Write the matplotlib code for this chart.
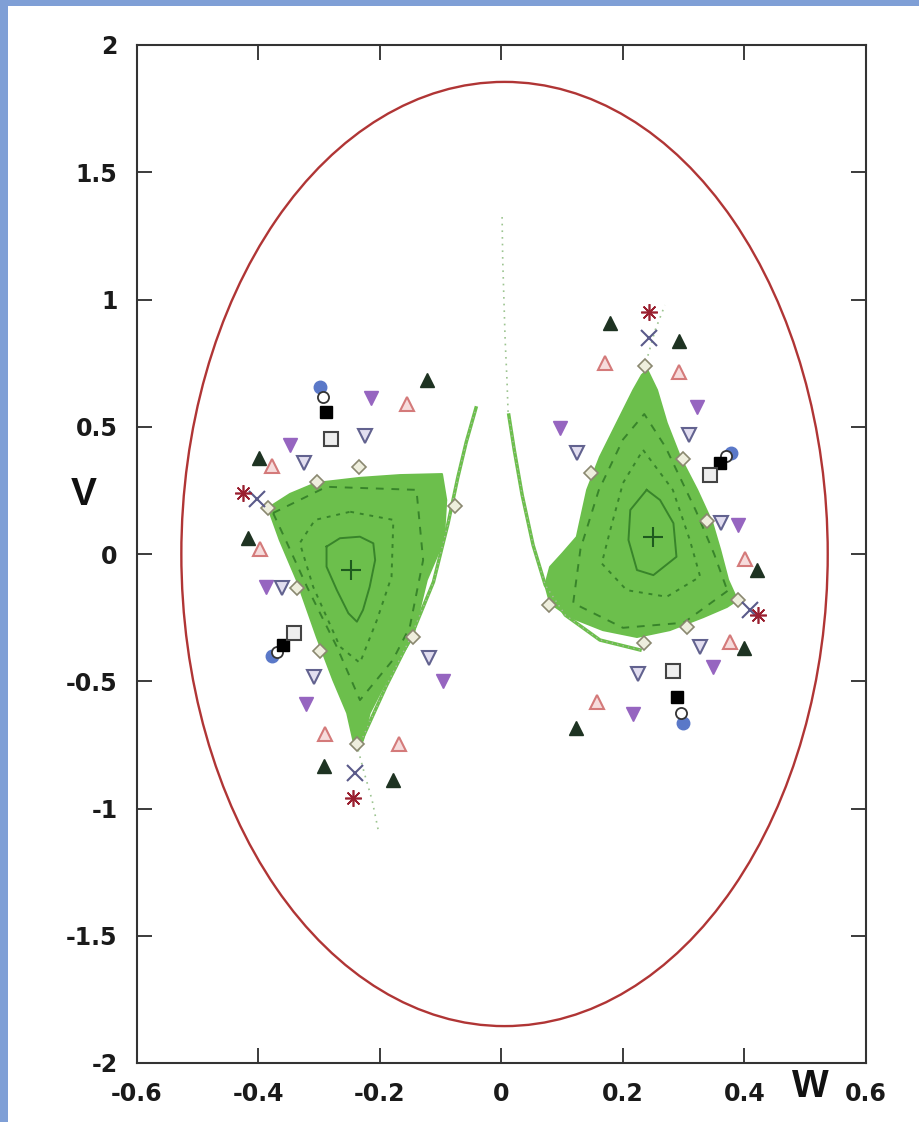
import matplotlib
matplotlib.use("Agg")
import matplotlib.pyplot as plt
from matplotlib.patches import Ellipse, Polygon, Rectangle

plt.rcParams['font.family'] = ['DejaVu Sans']

# ---- data (W, V) ------------------------------------------------------------
ell_w0, ell_v0, ell_rw, ell_rv = 0.005, 0.0, 0.532, 1.855

# island outlines
left_isl_w = [-0.384, -0.348, -0.305, -0.233, -0.167, -0.098, -0.091, -0.095, -0.123, -0.146,
              -0.189, -0.217, -0.228, -0.236, -0.244, -0.254, -0.277, -0.304, -0.337, -0.365]
left_isl_v = [0.181, 0.236, 0.279, 0.299, 0.310, 0.314, 0.212, 0.055, -0.102, -0.326,
              -0.495, -0.625, -0.731, -0.770, -0.731, -0.625, -0.495, -0.326, -0.102, 0.055]
right_isl_w = [0.240, 0.256, 0.272, 0.294, 0.322, 0.347, 0.360, 0.373, 0.388, 0.371, 0.332,
               0.277, 0.223, 0.167, 0.113, 0.080, 0.072, 0.080, 0.101, 0.124, 0.129, 0.141,
               0.162, 0.190, 0.217, 0.231]
right_isl_v = [0.723, 0.644, 0.515, 0.381, 0.252, 0.122, 0.016, -0.102, -0.181, -0.208, -0.248,
               -0.299, -0.326, -0.299, -0.248, -0.193, -0.122, -0.051, 0.004, 0.067, 0.122, 0.252,
               0.381, 0.515, 0.644, 0.703]

# closed invariant curves inside the islands
left_c1_w = [-0.288, -0.266, -0.233, -0.211, -0.208, -0.217, -0.228, -0.238, -0.252, -0.271, -0.288]
left_c1_v = [0.029, 0.062, 0.068, 0.042, -0.024, -0.129, -0.220, -0.266, -0.233, -0.142, -0.050]
left_c2_w = [-0.249, -0.178, -0.181, -0.205, -0.233, -0.266, -0.310, -0.332, -0.307]
left_c2_v = [0.166, 0.134, -0.089, -0.259, -0.428, -0.364, -0.129, 0.043, 0.134]
left_c3_w = [-0.376, -0.288, -0.140, -0.129, -0.151, -0.179, -0.233, -0.271, -0.320, -0.353]
left_c3_v = [0.161, 0.264, 0.252, -0.024, -0.287, -0.417, -0.574, -0.365, -0.130, 0.043]
right_c1_w = [0.239, 0.261, 0.283, 0.288, 0.250, 0.223, 0.209, 0.212]
right_c1_v = [0.252, 0.212, 0.121, -0.011, -0.083, -0.063, 0.055, 0.173]
right_c2_w = [0.233, 0.282, 0.310, 0.327, 0.272, 0.206, 0.165, 0.179, 0.200]
right_c2_v = [0.409, 0.252, 0.055, -0.089, -0.168, -0.142, -0.037, 0.094, 0.279]
right_c3_w = [0.372, 0.300, 0.200, 0.118, 0.130, 0.160, 0.200, 0.235, 0.270, 0.320, 0.350]
right_c3_v = [-0.145, -0.270, -0.290, -0.193, 0.020, 0.250, 0.450, 0.550, 0.420, 0.170, 0.000]

# thin chaotic tails
left_tail_w = [-0.232, -0.190, -0.150, -0.112, -0.088, -0.072, -0.058, -0.042]
left_tail_v = [-0.740, -0.520, -0.330, -0.110, 0.120, 0.300, 0.440, 0.574]
right_tail_w = [0.228, 0.162, 0.105, 0.072, 0.052, 0.034, 0.021, 0.012]
right_tail_v = [-0.377, -0.338, -0.240, -0.122, 0.035, 0.232, 0.409, 0.546]
mid_tail_w = [0.001, 0.002, 0.004, 0.006, 0.009, 0.011]
mid_tail_v = [1.324, 1.155, 0.998, 0.841, 0.684, 0.546]
ltip_tail_w = [-0.236, -0.225, -0.213, -0.203]
ltip_tail_v = [-0.770, -0.868, -0.967, -1.084]
rtip_tail_w = [0.238, 0.253, 0.269]
rtip_tail_v = [0.754, 0.880, 0.978]

# orbit markers
blue_w = [-0.298, -0.377, 0.377, 0.298]
blue_v = [0.657, -0.401, 0.396, -0.663]
ocirc_w = [-0.294, -0.370, 0.370, 0.295]
ocirc_v = [0.616, -0.384, 0.384, -0.624]
bsq_w = [-0.289, -0.359, 0.360, 0.289]
bsq_v = [0.559, -0.358, 0.356, -0.561]
osq_w = [-0.281, -0.342, 0.343, 0.282]
osq_v = [0.452, -0.312, 0.310, -0.458]
pdn_w = [-0.215, -0.348, -0.388, -0.097, -0.321, 0.321, 0.096, 0.390, 0.348, 0.216]
pdn_v = [0.612, 0.428, -0.128, -0.499, -0.591, 0.579, 0.494, 0.114, -0.443, -0.629]
odn_w = [-0.225, -0.325, -0.362, -0.120, -0.308, 0.309, 0.124, 0.361, 0.326, 0.225]
odn_v = [0.464, 0.356, -0.135, -0.410, -0.485, 0.468, 0.396, 0.121, -0.367, -0.471]
pup_w = [-0.155, -0.377, -0.397, -0.291, -0.168, 0.170, 0.293, 0.401, 0.376, 0.157]
pup_v = [0.589, 0.346, 0.018, -0.707, -0.747, 0.752, 0.716, -0.021, -0.345, -0.580]
kup_w = [-0.123, -0.399, -0.418, -0.292, -0.178, 0.179, 0.293, 0.420, 0.399, 0.123]
kup_v = [0.684, 0.376, 0.064, -0.832, -0.888, 0.907, 0.838, -0.063, -0.371, -0.685]
dia_w = [-0.234, -0.304, -0.384, -0.077, -0.337, -0.299, -0.146, -0.238,
         0.237, 0.299, 0.147, 0.338, 0.390, 0.079, 0.235, 0.305]
dia_v = [0.343, 0.284, 0.180, 0.190, -0.135, -0.381, -0.325, -0.748,
         0.739, 0.372, 0.317, 0.130, -0.181, -0.200, -0.348, -0.288]
x_w = [-0.403, -0.241, 0.242, 0.409]
x_v = [0.215, -0.859, 0.847, -0.220]
ast_w = [-0.425, -0.244, 0.242, 0.423]
ast_v = [0.238, -0.960, 0.952, -0.240]
ctr_w = [-0.247, 0.250]
ctr_v = [-0.063, 0.068]

x_ticks = [-0.6, -0.4, -0.2, 0, 0.2, 0.4, 0.6]
x_labels = ['-0.6', '-0.4', '-0.2', '0', '0.2', '0.4', '0.6']
y_ticks = [-2, -1.5, -1, -0.5, 0, 0.5, 1, 1.5, 2]
y_labels = ['-2', '-1.5', '-1', '-0.5', '0', '0.5', '1', '1.5', '2']

# ---- figure ---------------------------------------------------------------------
W, H = 920, 1122
fig = plt.figure(figsize=(W / 100, H / 100), dpi=100)
fig.patch.set_facecolor('#7f9fd6')
fig.add_artist(Rectangle((8 / W, 0), 1, (H - 6) / H, transform=fig.transFigure,
                         facecolor='white', edgecolor='none', zorder=0))

ax = fig.add_axes([137 / W, 59 / H, 729 / W, 1018 / H])
ax.set_xlim(-0.6, 0.6)
ax.set_ylim(-2, 2)

green = '#6cbf4c'
dgreen = '#2f7a25'

ax.add_patch(Ellipse((ell_w0, ell_v0), 2 * ell_rw, 2 * ell_rv, fill=False,
                     edgecolor='#b03535', lw=1.7, zorder=2))

for ws, vs in [(left_isl_w, left_isl_v), (right_isl_w, right_isl_v)]:
    ax.add_patch(Polygon(list(zip(ws, vs)), closed=True, facecolor=green,
                         edgecolor=green, lw=1.5, joinstyle='round', zorder=3))

for ws, vs, ls in [(left_c1_w, left_c1_v, '-'), (left_c2_w, left_c2_v, (0, (2, 3))),
                   (left_c3_w, left_c3_v, (0, (4, 4))), (right_c1_w, right_c1_v, '-'),
                   (right_c2_w, right_c2_v, (0, (2, 3))), (right_c3_w, right_c3_v, (0, (4, 4)))]:
    ax.plot(ws + ws[:1], vs + vs[:1], color=dgreen, lw=1.4, ls=ls, alpha=0.85, zorder=4)

for ws, vs in [(left_tail_w, left_tail_v), (right_tail_w, right_tail_v)]:
    ax.plot(ws, vs, color=green, lw=2.5, zorder=3)
    ax.plot(ws, vs, color='#a8b8a0', lw=1.0, ls=(0, (1, 3)), zorder=3)
for ws, vs in [(mid_tail_w, mid_tail_v), (ltip_tail_w, ltip_tail_v), (rtip_tail_w, rtip_tail_v)]:
    ax.plot(ws, vs, color='#9cc490', lw=1.2, ls=(0, (1, 3)), zorder=3)

ax.plot(blue_w, blue_v, 'o', ms=9, mfc='#5a78c8', mec='#5a78c8', zorder=5)
ax.plot(ocirc_w, ocirc_v, 'o', ms=8, mfc='white', mec='#333333', mew=1.3, zorder=5)
ax.plot(bsq_w, bsq_v, 's', ms=9, mfc='black', mec='black', zorder=5)
ax.plot(osq_w, osq_v, 's', ms=10, mfc='#eeeeee', mec='#444444', mew=1.5, zorder=5)
ax.plot(pdn_w, pdn_v, 'v', ms=10, mfc='#9665c0', mec='#9665c0', zorder=5)
ax.plot(odn_w, odn_v, 'v', ms=10, mfc='#e2def0', mec='#62628f', mew=1.5, zorder=5)
ax.plot(pup_w, pup_v, '^', ms=10, mfc='#f6dcdc', mec='#d47a7a', mew=1.5, zorder=5)
ax.plot(kup_w, kup_v, '^', ms=10, mfc='#1e3322', mec='#1e3322', zorder=5)
ax.plot(dia_w, dia_v, 'D', ms=7, mfc='#eeeedd', mec='#8a8870', mew=1.2, zorder=5)
ax.plot(x_w, x_v, 'x', ms=12, mec='#5a5a8a', mew=1.5, zorder=5)
ax.plot(ast_w, ast_v, marker=(8, 2, 0), ls='none', ms=12, mec='#9a2030', mew=1.2, zorder=5)
ax.plot(ctr_w, ctr_v, '+', ms=14, mec='#1e5a1e', mew=1.5, zorder=6)

ax.set_xticks(x_ticks)
ax.set_xticklabels(x_labels)
ax.set_yticks(y_ticks)
ax.set_yticklabels(y_labels)
ax.tick_params(direction='in', length=11, width=1.2, top=True, right=True,
               labelsize=17, pad=14, colors='#1a1a1a')
for lab in ax.get_xticklabels() + ax.get_yticklabels():
    lab.set_fontweight('bold')
for sp in ax.spines.values():
    sp.set_linewidth(1.5)
    sp.set_color('#333333')

fig.text(810 / W, 1 - 1087 / H, 'W', fontsize=28, fontweight='bold', family='Liberation Sans',
         ha='center', va='center', color='#111111')
fig.text(84 / W, 1 - 495 / H, 'V', fontsize=28, fontweight='bold', family='Liberation Sans',
         ha='center', va='center', color='#111111')

fig.savefig('out.png', dpi=100, facecolor=fig.get_facecolor())
